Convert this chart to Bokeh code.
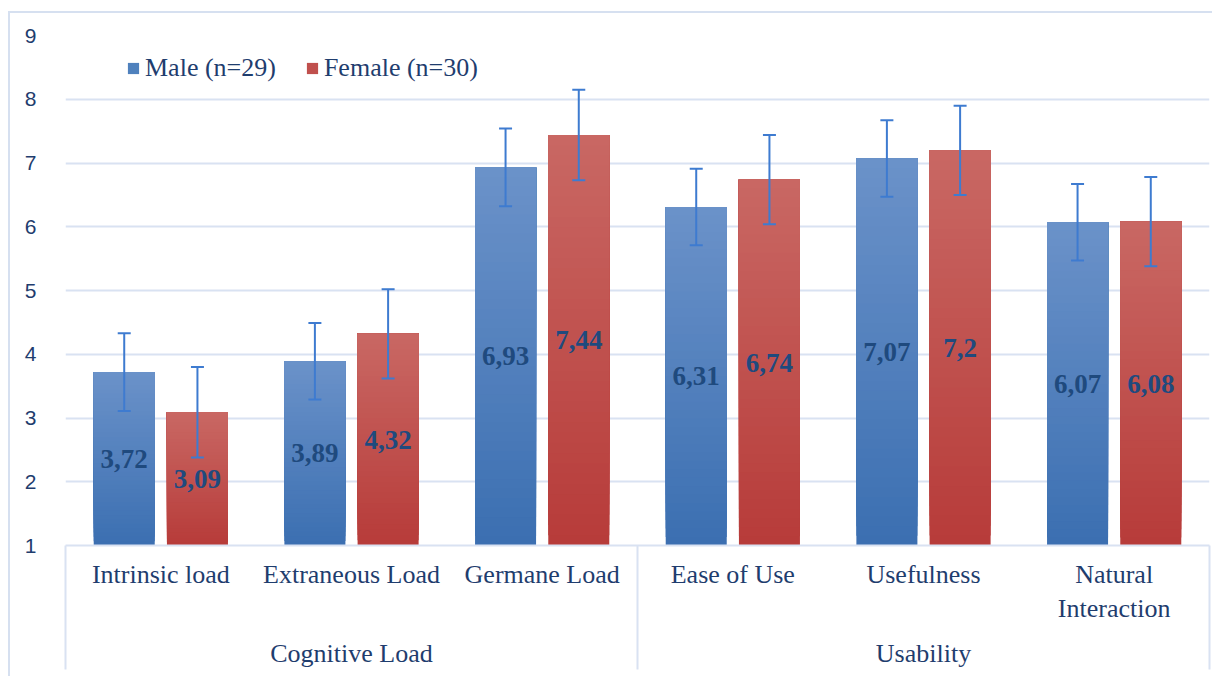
from bokeh.plotting import figure
from bokeh.models import (FixedTicker, LinearAxis, Legend, LegendItem, Whisker,
                          ColumnDataSource, TeeHead, Range1d)
from bokeh.core.properties import value
from bokeh.embed import file_html
from bokeh.resources import INLINE

# ---- data ----
categories = ["Intrinsic load", "Extraneous Load", "Germane Load",
              "Ease of Use", "Usefulness", "Natural\nInteraction"]
groups = ["Cognitive Load", "Usability"]
group_sizes = [3, 3]
male = [3.72, 3.89, 6.93, 6.31, 7.07, 6.07]
female = [3.09, 4.32, 7.44, 6.74, 7.2, 6.08]
male_err = [0.61, 0.60, 0.61, 0.60, 0.60, 0.60]
female_err = [0.71, 0.70, 0.71, 0.70, 0.70, 0.70]
series_names = ["Male (n=29)", "Female (n=30)"]
y_ticks = [1, 2, 3, 4, 5, 6, 7, 8, 9]

# ---- style ----
TXT = "#1F3D6E"
LBL = "#1F4A7E"
GRID = "#D9E2F2"
SERIF = "Liberation Serif"
blue_top, blue_bot = (0x6B, 0x92, 0xC9), (0x3B, 0x6F, 0xB1)
red_top, red_bot = (0xC9, 0x68, 0x64), (0xB7, 0x3B, 0x39)
offset = 0.192
bar_w = 0.32
N = 40


def hexc(c):
    return "#%02x%02x%02x" % tuple(int(round(v)) for v in c)


p = figure(width=1204, height=665, output_backend="svg", toolbar_location=None,
           x_range=Range1d(0, 6), y_range=Range1d(1, 9),
           min_border_left=55, min_border_right=5, min_border_top=22,
           min_border_bottom=133)
p.margin = (11, 0, 0, 8)
p.styles = {"border-left": "2px solid #D6E0F0", "border-top": "2px solid #D6E0F0"}
p.outline_line_color = None
p.background_fill_color = "white"
p.border_fill_color = "white"

# gradient bars: overlapping slices, each from its start up to the bar top
L, R, B, T, C = [], [], [], [], []
for vals, sgn, top_c, bot_c in [(male, -1, blue_top, blue_bot), (female, 1, red_top, red_bot)]:
    for i, v in enumerate(vals):
        xc = i + 0.5 + sgn * offset
        for k in range(N):
            t = (k + 0.5) / N
            col = tuple(bot_c[j] + (top_c[j] - bot_c[j]) * t for j in range(3))
            L.append(xc - bar_w / 2)
            R.append(xc + bar_w / 2)
            B.append(1 + (v - 1) * k / N)
            T.append(v)
            C.append(hexc(col))
p.quad(left=L, right=R, bottom=B, top=T, fill_color=C, line_color=None)

# error bars
for vals, errs, sgn in [(male, male_err, -1), (female, female_err, 1)]:
    src = ColumnDataSource(dict(
        x=[i + 0.5 + sgn * offset for i in range(len(vals))],
        lo=[v - e for v, e in zip(vals, errs)],
        hi=[v + e for v, e in zip(vals, errs)]))
    w = Whisker(base="x", lower="lo", upper="hi", source=src, line_color="#3E7BD0",
                line_width=2, level="annotation",
                upper_head=TeeHead(size=13, line_color="#3E7BD0", line_width=2),
                lower_head=TeeHead(size=13, line_color="#3E7BD0", line_width=2))
    p.add_layout(w)

# data labels
for vals, sgn in [(male, -1), (female, 1)]:
    p.text(x=[i + 0.5 + sgn * offset for i in range(len(vals))],
           y=[(1 + v) / 2 for v in vals],
           text=[f"{v:g}".replace(".", ",") for v in vals],
           text_font=value(SERIF), text_font_style="bold", text_font_size="27px",
           text_color=LBL, text_align="center", text_baseline="middle")

# grid
p.xgrid.grid_line_color = None
p.ygrid.grid_line_color = GRID
p.ygrid.grid_line_width = 2
p.ygrid.ticker = FixedTicker(ticks=y_ticks)

# y axis
ya = p.yaxis[0]
ya.ticker = FixedTicker(ticks=y_ticks)
ya.axis_line_color = None
ya.major_tick_line_color = None
ya.minor_tick_line_color = None
ya.major_label_standoff = 23
ya.major_label_text_font = "Liberation Sans"
ya.major_label_text_font_size = "21px"
ya.major_label_text_color = TXT

# x axis: categories + separators via minor ticks
sep = [0]
for s in group_sizes:
    sep.append(sep[-1] + s)
xa = p.xaxis[0]
xa.ticker = FixedTicker(ticks=[i + 0.5 for i in range(len(categories))], minor_ticks=sep)
xa.major_label_overrides = {i + 0.5: c for i, c in enumerate(categories)}
xa.major_tick_line_color = None
xa.major_tick_in = 0
xa.major_tick_out = 0
xa.minor_tick_in = 0
xa.minor_tick_out = 124
xa.minor_tick_line_color = GRID
xa.minor_tick_line_width = 2
xa.axis_line_color = GRID
xa.axis_line_width = 2
xa.major_label_standoff = -110
xa.major_label_text_font = SERIF
xa.major_label_text_font_size = "26px"
xa.major_label_text_color = TXT

# group axis
gcent = [(sep[i] + sep[i + 1]) / 2 for i in range(len(groups))]
ga = LinearAxis(ticker=FixedTicker(ticks=gcent),
                major_label_overrides={c: g for c, g in zip(gcent, groups)})
ga.axis_line_color = None
ga.major_tick_line_color = None
ga.minor_tick_line_color = None
ga.major_label_standoff = 6
ga.major_label_text_font = SERIF
ga.major_label_text_font_size = "26px"
ga.major_label_text_color = TXT
p.add_layout(ga, "below")

# legend (zero-area swatch renderers)
r_m = p.quad(left=[0], right=[0], bottom=[1], top=[1], fill_color="#4F81BD", line_color=None)
r_f = p.quad(left=[0], right=[0], bottom=[1], top=[1], fill_color="#C0504D", line_color=None)
leg = Legend(items=[LegendItem(label=series_names[0], renderers=[r_m]),
                    LegendItem(label=series_names[1], renderers=[r_f])],
             location=(61, 462), orientation="horizontal",
             glyph_width=14, glyph_height=14, label_standoff=5, spacing=29,
             padding=0, margin=0, border_line_color=None, background_fill_alpha=0,
             label_text_font=SERIF, label_text_font_size="26px", label_text_color=TXT)
p.add_layout(leg)

open("out.html", "w").write(file_html(p, INLINE))
